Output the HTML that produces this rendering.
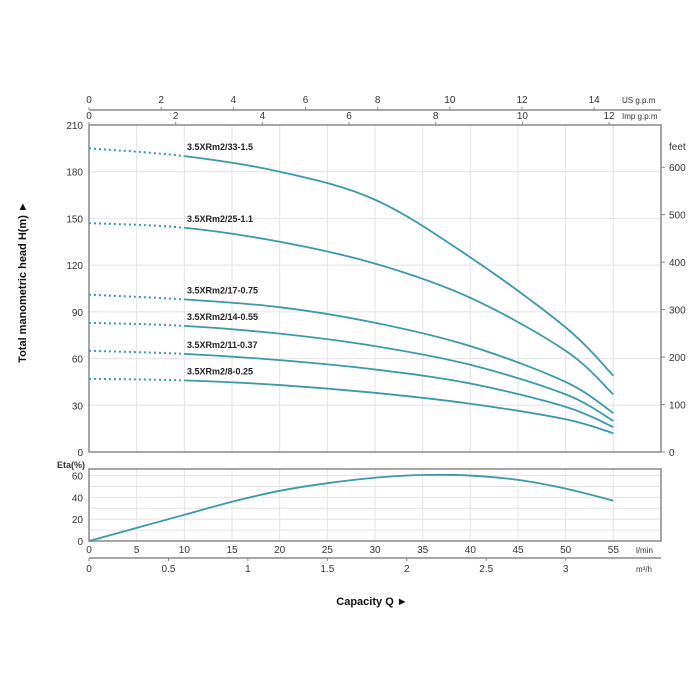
<!DOCTYPE html>
<html><head><meta charset="utf-8"><style>
body{margin:0;background:#fff}
svg{display:block;font-family:"Liberation Sans",sans-serif}
</style></head><body>
<svg id="c" width="700" height="700" viewBox="0 0 700 700"></svg>
<script>
const flows=[0,10,20,30,40,50,55];
const seriesNames=["3.5XRm2/33-1.5","3.5XRm2/25-1.1","3.5XRm2/17-0.75","3.5XRm2/14-0.55","3.5XRm2/11-0.37","3.5XRm2/8-0.25"];
const h33=[195,190,180,162,125,80,49];
const h25=[147,144,135,121,99,65,37];
const h17=[101,98,93,83,68,45,25];
const h14=[83,81,76,68,56,37,20];
const h11=[65,63,59,53,44,29,16];
const h8=[47,46,43,38,31,21,12];
const etaFlows=[0,5,10,15,20,25,30,35,40,45,50,55];
const etaVals=[0,12,24,36,46,53,58,60.5,60,56,48,37];
const headTicks=[0,30,60,90,120,150,180,210];
const feetTicks=[0,100,200,300,400,500,600];
const etaTicks=[0,20,40,60];
const lminTicks=[0,5,10,15,20,25,30,35,40,45,50,55];
const m3hTicks=[0,0.5,1,1.5,2,2.5,3];
const usTicks=[0,2,4,6,8,10,12,14];
const impTicks=[0,2,4,6,8,10,12];

const NS="http://www.w3.org/2000/svg",svg=document.getElementById('c');
const X0=89,X1=661,Y0=452,Y1=125,EY0=541,EY1=469;
const x=q=>X0+q*(X1-X0)/60;
const y=h=>Y0-h*(Y0-Y1)/210;
const ey=e=>EY0-e*(EY0-EY1)/66;
const fy=f=>y(f*0.3048);
const teal="#3a9aa6",ax="#888";
function el(t,a,p){const e=document.createElementNS(NS,t);for(const k in a)e.setAttribute(k,a[k]);(p||svg).appendChild(e);return e;}
function txt(s,a){const e=el('text',a);e.textContent=s;return e;}

for(const q of lminTicks.concat([60])){
 const g=el('line',{x1:x(q),x2:x(q),y1:Y1,y2:Y0,stroke:"#e4e4e4"});
 
 const g2=el('line',{x1:x(q),x2:x(q),y1:EY1,y2:EY0,stroke:"#e4e4e4"});
 
}
for(const h of headTicks){
 const g=el('line',{x1:X0,x2:X1,y1:y(h),y2:y(h),stroke:"#e4e4e4"});
 
 const t=txt(h,{x:X0-6,y:y(h)+4,'font-size':10,'text-anchor':'end',fill:'#333'});
 
}
for(let e=10;e<=60;e+=10){
 const g=el('line',{x1:X0,x2:X1,y1:ey(e),y2:ey(e),stroke:"#e4e4e4"});
 
}
let f=el('rect',{x:X0,y:Y1,width:X1-X0,height:Y0-Y1,fill:'none',stroke:ax,'stroke-width':1.5});

f=el('rect',{x:X0,y:EY1,width:X1-X0,height:EY0-EY1,fill:'none',stroke:ax,'stroke-width':1.5});

for(const ft of feetTicks){
 el('line',{x1:X1,x2:X1+4,y1:fy(ft),y2:fy(ft),stroke:ax});
 const t=txt(ft,{x:X1+8,y:fy(ft)+4,'font-size':10,fill:'#333'});
 
}
let t=txt('feet',{x:X1+8,y:150,'font-size':10,fill:'#333'});

for(const e of etaTicks){
 const tt=txt(e,{x:X0-6,y:ey(e)+4,'font-size':10,'text-anchor':'end',fill:'#333'});
 
}
t=txt('Eta(%)',{x:57,y:468,'font-size':9,fill:'#333','font-weight':'bold'});

for(const q of lminTicks){
 const tt=txt(q,{x:x(q),y:553,'font-size':10,'text-anchor':'middle',fill:'#333'});
 
}
t=txt('l/min',{x:636,y:553,'font-size':8,fill:'#333'});
el('line',{x1:X0,x2:X1,y1:558,y2:558,stroke:ax,'stroke-width':1.5});
for(const m of m3hTicks){
 el('line',{x1:x(m*1000/60),x2:x(m*1000/60),y1:558,y2:561,stroke:ax});
 const tt=txt(m,{x:x(m*1000/60),y:572,'font-size':10,'text-anchor':'middle',fill:'#333'});
 
}
t=txt('m³/h',{x:636,y:572,'font-size':8,fill:'#333'});
el('line',{x1:X0,x2:X1,y1:110,y2:110,stroke:ax,'stroke-width':1.5});
for(const g of usTicks){
 el('line',{x1:x(g*3.785),x2:x(g*3.785),y1:110,y2:107,stroke:ax});
 const tt=txt(g,{x:x(g*3.785),y:103,'font-size':10,'text-anchor':'middle',fill:'#333'});
 
}
for(const g of impTicks){
 el('line',{x1:x(g*4.546),x2:x(g*4.546),y1:Y1,y2:Y1-3,stroke:ax});
 const tt=txt(g,{x:x(g*4.546),y:119,'font-size':10,'text-anchor':'middle',fill:'#333'});
 
}
t=txt('US g.p.m',{x:622,y:103,'font-size':8,fill:'#333'});
t=txt('Imp g.p.m',{x:622,y:119,'font-size':8,fill:'#333'});

function smooth(xs,ys,fx,fyf,from,to){
 const P=xs.map((q,i)=>[fx(q),fyf(ys[i])]);
 let d='M'+P[from][0]+','+P[from][1];
 for(let i=from;i<to;i++){
  const p0=P[Math.max(i-1,0)],p1=P[i],p2=P[i+1],p3=P[Math.min(i+2,P.length-1)];
  d+=' C'+(p1[0]+(p2[0]-p0[0])/6)+','+(p1[1]+(p2[1]-p0[1])/6)+' '+(p2[0]-(p3[0]-p1[0])/6)+','+(p2[1]-(p3[1]-p1[1])/6)+' '+p2[0]+','+p2[1];
 }
 return d;
}
const allH=[h33,h25,h17,h14,h11,h8];
allH.forEach((hs,k)=>{
 const dot=el('path',{d:smooth(flows,hs,x,y,0,1),fill:'none',stroke:teal,'stroke-width':2,'stroke-dasharray':'2 3'});
 
 const sol=el('path',{d:smooth(flows,hs,x,y,1,flows.length-1),fill:'none',stroke:teal,'stroke-width':1.8});
 
 const lb=txt(seriesNames[k],{x:187,y:y(hs[1])-6,'font-size':9,fill:'#222','font-weight':'bold'});
 
});
const ep=el('path',{d:smooth(etaFlows,etaVals,x,ey,0,etaFlows.length-1),fill:'none',stroke:teal,'stroke-width':1.8});


t=txt('Total manometric head H(m)  ►',{x:0,y:0,'font-size':11,'font-weight':'bold',fill:'#111','text-anchor':'middle',transform:'translate(26,282) rotate(-90)'});

t=txt('Capacity Q   ►',{x:372,y:605,'font-size':11,'font-weight':'bold',fill:'#111','text-anchor':'middle'});

</script>
</body></html>
